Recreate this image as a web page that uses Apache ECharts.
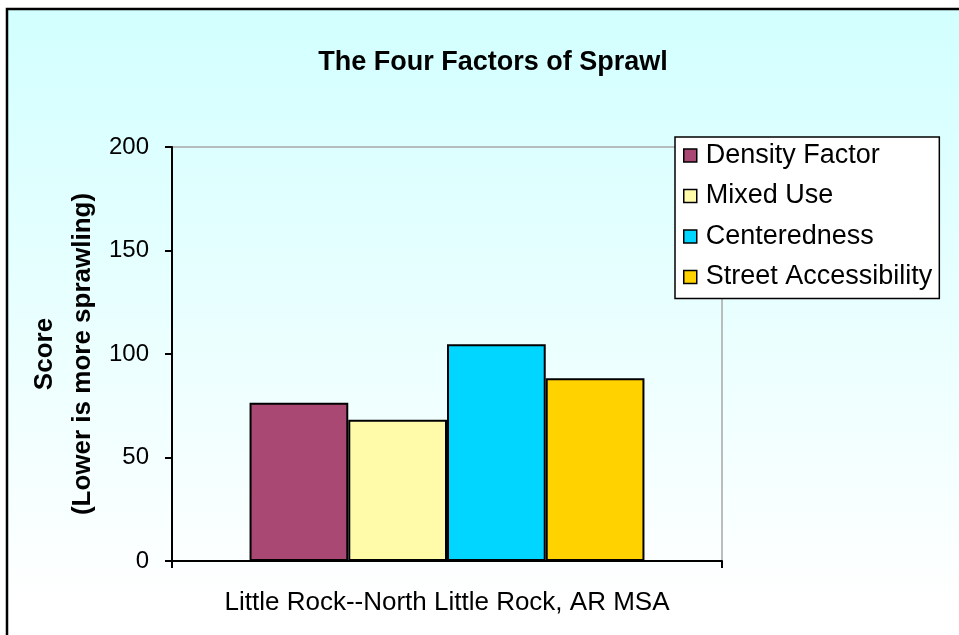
<!DOCTYPE html>
<html>
<head>
<meta charset="utf-8">
<script src="https://cdn.jsdelivr.net/npm/echarts@6/dist/echarts.min.js"></script>
<style>html,body{margin:0;padding:0;background:#fff}#c{width:959px;height:635px}</style>
</head>
<body>
<div id="c"></div>
<script>
var categories = ['Little Rock--North Little Rock, AR MSA'];
var seriesNames = ['Density Factor', 'Mixed Use', 'Centeredness', 'Street Accessibility'];
var densityFactor = [76.5];
var mixedUse = [68.2];
var centeredness = [104.7];
var streetAccessibility = [88.3];
var seriesColors = ['#AA4874', '#FFFBA8', '#00D6FF', '#FFD200'];
var yTicks = { min: 0, max: 200, interval: 50 };

var values = [densityFactor, mixedUse, centeredness, streetAccessibility];
var FONT = '"Liberation Sans", Arial, sans-serif';

var chart = echarts.init(document.getElementById('c'), null, { renderer: 'canvas' });
chart.setOption({
  backgroundColor: '#ffffff',
  animation: false,
  graphic: [{
    type: 'rect', z: -10, silent: true,
    shape: { x: 7, y: 9, width: 1000, height: 700 },
    style: {
      fill: { type: 'linear', x: 0, y: 0, x2: 0, y2: 1, colorStops: [
        { offset: 0, color: '#d2ffff' }, { offset: 0.85, color: '#ffffff' }, { offset: 1, color: '#ffffff' }] },
      stroke: '#000', lineWidth: 2.5
    }
  }],
  title: {
    text: 'The Four Factors of Sprawl',
    left: 488, top: 44, textAlign: 'center',
    textStyle: { fontFamily: FONT, fontWeight: 'bold', fontSize: 27, color: '#000' }
  },
  legend: {
    orient: 'vertical', left: 675, top: 137,
    backgroundColor: '#ffffff', borderColor: '#000', borderWidth: 1.5,
    padding: [5, 7, 8, 8], itemGap: 13.5, itemWidth: 13, itemHeight: 13,
    icon: 'rect',
    itemStyle: { borderColor: '#000', borderWidth: 1.5 },
    textStyle: { fontFamily: FONT, fontSize: 27, color: '#000', lineHeight: 27, padding: [0, 0, 0, 4] },
    data: seriesNames
  },
  grid: {
    left: 172, right: 237, top: 147, bottom: 74,
    show: true, borderColor: '#a8a8a8', borderWidth: 1.5, backgroundColor: 'transparent'
  },
  xAxis: {
    type: 'category', data: categories,
    axisLine: { lineStyle: { color: '#000', width: 2 } },
    axisTick: { show: true, length: 7, lineStyle: { color: '#000', width: 2 } },
    axisLabel: { margin: 29, fontFamily: FONT, fontSize: 26, color: '#000' }
  },
  yAxis: {
    type: 'value', min: yTicks.min, max: yTicks.max, interval: yTicks.interval,
    name: 'Score\n(Lower is more sprawling)', nameLocation: 'middle', nameGap: 70,
    nameMoveOverlap: false,
    nameTextStyle: { fontFamily: FONT, fontWeight: 'bold', fontSize: 26, lineHeight: 38, color: '#000', align: 'center' },
    axisLine: { show: true, lineStyle: { color: '#000', width: 2 } },
    axisTick: { show: true, length: 7, lineStyle: { color: '#000', width: 2 } },
    splitLine: { show: false },
    axisLabel: { margin: 23, fontFamily: FONT, fontSize: 24, color: '#000' }
  },
  series: seriesNames.map(function (n, i) {
    return {
      name: n, type: 'bar', data: values[i],
      barGap: '0%', barCategoryGap: '28.2%',
      itemStyle: { color: seriesColors[i], borderColor: '#000', borderWidth: 2 }
    };
  })
});
</script>
</body>
</html>
